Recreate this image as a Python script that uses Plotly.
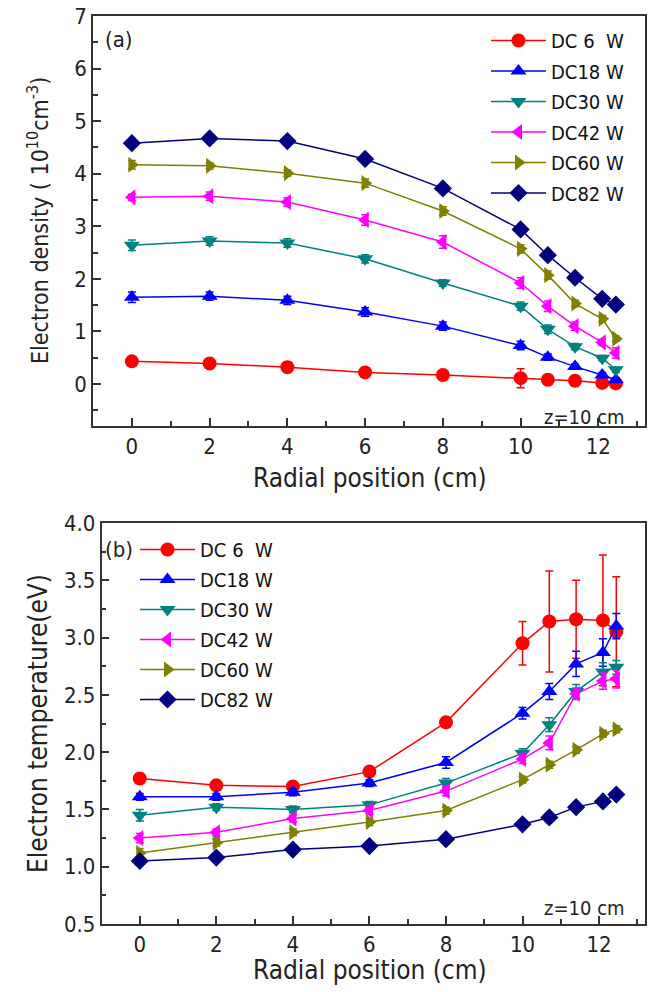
import plotly.graph_objects as go

# ---------------- data ----------------
radial = [0, 2, 4, 6, 8, 10, 10.7, 11.4, 12.1, 12.45]
series_names = ["DC 6  W", "DC18 W", "DC30 W", "DC42 W", "DC60 W", "DC82 W"]

# (a) electron density (1e10 cm^-3)
dens_dc6 = [0.43, 0.39, 0.32, 0.22, 0.17, 0.11, 0.08, 0.06, 0.02, 0.01]
dens_dc18 = [1.65, 1.67, 1.59, 1.37, 1.10, 0.73, 0.51, 0.33, 0.17, 0.08]
dens_dc30 = [2.64, 2.72, 2.68, 2.38, 1.92, 1.48, 1.04, 0.71, 0.49, 0.27]
dens_dc42 = [3.55, 3.57, 3.46, 3.12, 2.70, 1.92, 1.48, 1.10, 0.79, 0.59]
dens_dc60 = [4.17, 4.15, 4.01, 3.82, 3.29, 2.57, 2.07, 1.53, 1.24, 0.86]
dens_dc82 = [4.58, 4.67, 4.62, 4.28, 3.72, 2.94, 2.45, 2.02, 1.62, 1.51]

dens_err_dc6 = [0.04, 0.04, 0.10, 0.04, 0.04, 0.18, 0.04, 0.03, 0.03, 0.03]
dens_err_dc18 = [0.10, 0.08, 0.08, 0.08, 0.08, 0.08, 0.06, 0.05, 0.05, 0.04]
dens_err_dc30 = [0.10, 0.08, 0.08, 0.08, 0.06, 0.08, 0.08, 0.06, 0.05, 0.05]
dens_err_dc42 = [0.06, 0.08, 0.08, 0.10, 0.12, 0.10, 0.10, 0.08, 0.06, 0.10]
dens_err_dc60 = [0.08, 0.06, 0.06, 0.08, 0.08, 0.08, 0.08, 0.06, 0.06, 0.05]
dens_err_dc82 = [0.04, 0.04, 0.04, 0.04, 0.04, 0.04, 0.04, 0.04, 0.04, 0.04]

# (b) electron temperature (eV)
temp_dc6 = [1.77, 1.71, 1.70, 1.83, 2.26, 2.95, 3.14, 3.16, 3.15, 3.05]
temp_dc18 = [1.61, 1.61, 1.65, 1.73, 1.91, 2.34, 2.53, 2.77, 2.87, 3.10]
temp_dc30 = [1.45, 1.52, 1.50, 1.54, 1.73, 1.99, 2.24, 2.53, 2.70, 2.74]
temp_dc42 = [1.25, 1.30, 1.42, 1.49, 1.66, 1.94, 2.08, 2.51, 2.62, 2.64]
temp_dc60 = [1.12, 1.21, 1.30, 1.39, 1.49, 1.76, 1.89, 2.02, 2.16, 2.20]
temp_dc82 = [1.05, 1.08, 1.15, 1.18, 1.24, 1.37, 1.43, 1.52, 1.57, 1.63]

temp_err_dc6 = [0.04, 0.03, 0.03, 0.03, 0.03, 0.19, 0.44, 0.34, 0.57, 0.48]
temp_err_dc18 = [0.03, 0.03, 0.03, 0.03, 0.05, 0.05, 0.07, 0.11, 0.12, 0.11]
temp_err_dc30 = [0.05, 0.03, 0.03, 0.03, 0.04, 0.04, 0.06, 0.06, 0.08, 0.06]
temp_err_dc42 = [0.04, 0.03, 0.03, 0.03, 0.04, 0.04, 0.06, 0.05, 0.07, 0.08]
temp_err_dc60 = [0.04, 0.03, 0.03, 0.03, 0.03, 0.03, 0.03, 0.03, 0.03, 0.03]
temp_err_dc82 = [0.03, 0.03, 0.03, 0.03, 0.03, 0.03, 0.03, 0.03, 0.03, 0.03]

x_ticks = [0, 2, 4, 6, 8, 10, 12]
dens_ticks = [0, 1, 2, 3, 4, 5, 6, 7]
temp_ticks = [0.5, 1.0, 1.5, 2.0, 2.5, 3.0, 3.5, 4.0]

# ---------------- style ----------------
colors = ["#ff0000", "#0000ff", "#008080", "#ff00ff", "#808000", "#000080"]
symbols = ["circle", "triangle-up", "triangle-down", "triangle-left", "triangle-right", "diamond"]
FONT = "DejaVu Sans Condensed, Liberation Sans Narrow, Arial Narrow, Liberation Sans, sans-serif"
AX = "#333333"

dens_all = [dens_dc6, dens_dc18, dens_dc30, dens_dc42, dens_dc60, dens_dc82]
dens_err_all = [dens_err_dc6, dens_err_dc18, dens_err_dc30, dens_err_dc42, dens_err_dc60, dens_err_dc82]
temp_all = [temp_dc6, temp_dc18, temp_dc30, temp_dc42, temp_dc60, temp_dc82]
temp_err_all = [temp_err_dc6, temp_err_dc18, temp_err_dc30, temp_err_dc42, temp_err_dc60, temp_err_dc82]

fig = go.Figure()

for i, name in enumerate(series_names):
    fig.add_trace(go.Scatter(
        x=radial, y=dens_all[i], name=name, mode="lines+markers",
        line=dict(color=colors[i], width=1.5),
        marker=dict(symbol=symbols[i], size=14, color=colors[i]),
        error_y=dict(type="data", array=dens_err_all[i], color=colors[i], thickness=1.5, width=4),
        xaxis="x", yaxis="y", legend="legend", legendgroup="a%d" % i,
    ))
for i, name in enumerate(series_names):
    fig.add_trace(go.Scatter(
        x=radial, y=temp_all[i], name=name, mode="lines+markers",
        line=dict(color=colors[i], width=1.5),
        marker=dict(symbol=symbols[i], size=14, color=colors[i]),
        error_y=dict(type="data", array=temp_err_all[i], color=colors[i], thickness=1.5, width=4),
        xaxis="x2", yaxis="y2", legend="legend2", legendgroup="b%d" % i,
    ))

W, H = 656, 992
def px(xp):
    return xp / W
def py(yp):
    return 1 - yp / H

axis_common = dict(
    showline=True, linecolor=AX, linewidth=1.5, mirror=True,
    ticks="inside", ticklen=8, tickwidth=1.5, tickcolor=AX,
    showgrid=False, zeroline=False, automargin=False,
    tickfont=dict(family=FONT, size=22, color="#222222"),
)
minor_common = dict(ticklen=5, tickcolor=AX, ticks="inside", tickwidth=1.5)

fig.update_layout(
    width=W, height=H,
    margin=dict(l=0, r=0, t=0, b=0, autoexpand=False),
    paper_bgcolor="white", plot_bgcolor="white",
    font=dict(family=FONT, color="#222222"),
    xaxis=dict(domain=[px(93), px(645)], range=[-1, 13.2], anchor="y",
               tickvals=x_ticks, minor=dict(dtick=1, **minor_common), **axis_common),
    yaxis=dict(domain=[py(426), py(16)], range=[-0.8, 7], anchor="x",
               tickvals=dens_ticks, minor=dict(dtick=0.5, **minor_common), **axis_common),
    xaxis2=dict(domain=[px(101.5), px(645)], range=[-1, 13.2], anchor="y2",
                tickvals=x_ticks, minor=dict(dtick=1, **minor_common), **axis_common),
    yaxis2=dict(domain=[py(924), py(523)], range=[0.5, 4.0], anchor="x2",
                tickvals=temp_ticks, tickformat=".1f",
                minor=dict(dtick=0.25, **minor_common), **axis_common),
    legend=dict(x=px(486), y=py(21), xanchor="left", yanchor="top",
                font=dict(family=FONT, size=20, color="#111111"),
                bgcolor="rgba(0,0,0,0)", itemwidth=55, tracegroupgap=1.5),
    legend2=dict(x=px(135), y=py(530), xanchor="left", yanchor="top",
                 font=dict(family=FONT, size=20, color="#111111"),
                 bgcolor="rgba(0,0,0,0)", itemwidth=55, tracegroupgap=1),
    showlegend=True,
)

annotations = [
    dict(text="(a)", x=px(103), y=py(40), xanchor="left", yanchor="middle", font=dict(size=22)),
    dict(text="z=10 cm", x=px(627), y=py(417), xanchor="right", yanchor="middle", font=dict(size=20)),
    dict(text="(b)", x=px(103), y=py(549), xanchor="left", yanchor="middle", font=dict(size=22)),
    dict(text="z=10 cm", x=px(627), y=py(908), xanchor="right", yanchor="middle", font=dict(size=20)),
    dict(text="Radial position (cm)", x=px(370), y=py(478), xanchor="center", yanchor="middle", font=dict(size=26)),
    dict(text="Radial position (cm)", x=px(370), y=py(970), xanchor="center", yanchor="middle", font=dict(size=26)),
    dict(text="Electron density ( 10<sup>10</sup>cm<sup>-3</sup>)", x=px(38), y=py(221), textangle=-90,
         xanchor="center", yanchor="middle", font=dict(size=23)),
    dict(text="Electron temperature(eV)", x=px(38), y=py(724), textangle=-90,
         xanchor="center", yanchor="middle", font=dict(size=26)),
]
for a in annotations:
    a.update(xref="paper", yref="paper", showarrow=False)
    a["font"].update(family=FONT, color="#222222")
fig.update_layout(annotations=annotations)

fig.write_html("out.html", config={"displayModeBar": False},
               post_script="document.body.style.margin='0';")
